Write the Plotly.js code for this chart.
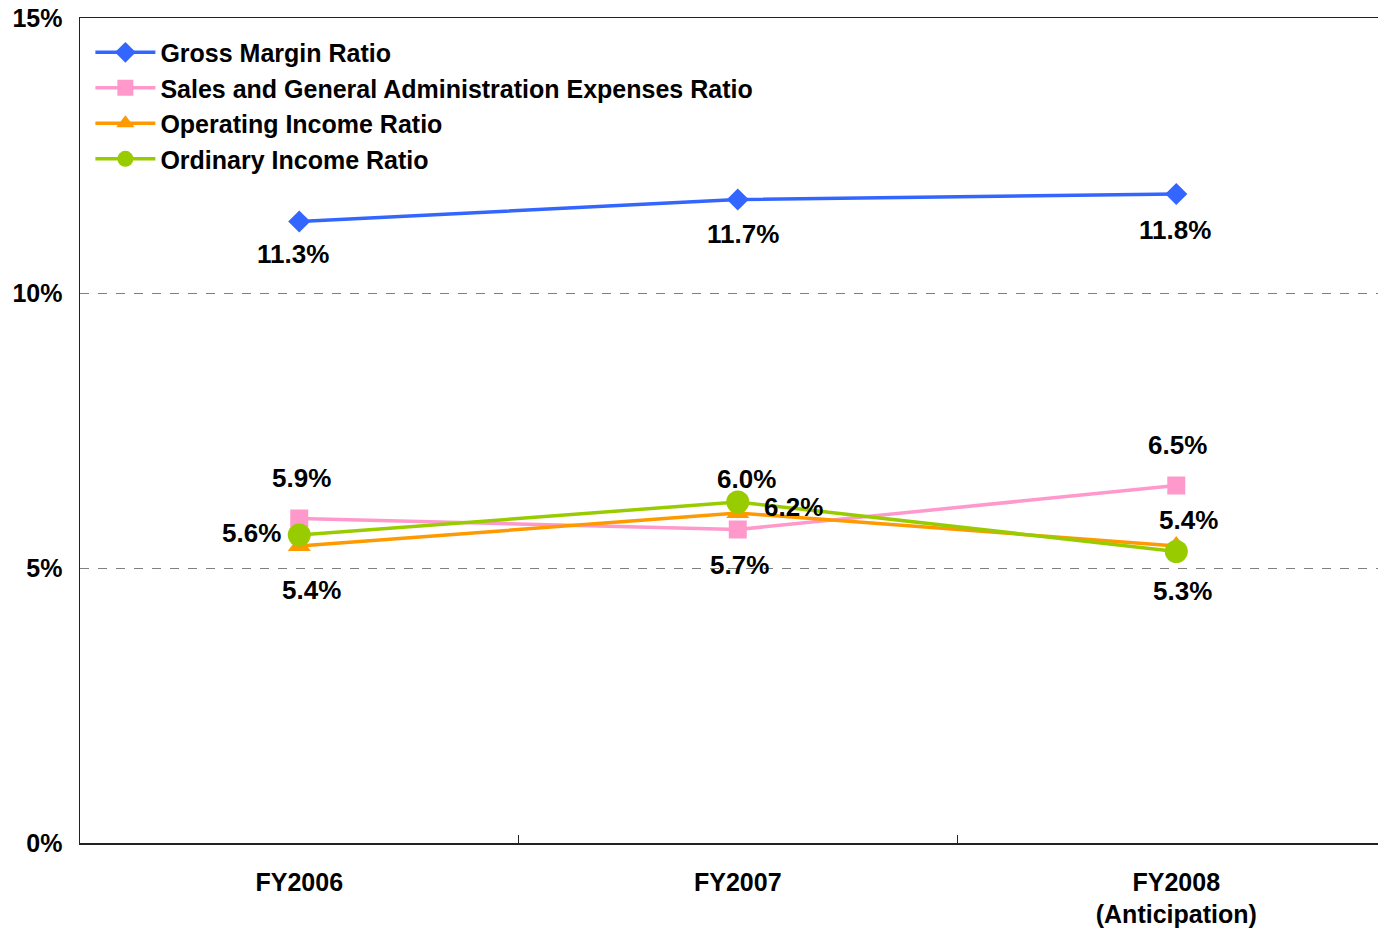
<!DOCTYPE html>
<html>
<head>
<meta charset="utf-8">
<script src="https://cdn.plot.ly/plotly-3.0.1.min.js"></script>
<style>
html,body{margin:0;padding:0;background:#fff;}
#chart{width:1378px;height:931px;}
</style>
</head>
<body>
<div id="chart"></div>
<script>
// ---- data ----
const categories = ["FY2006", "FY2007", "FY2008<br>(Anticipation)"];
const grossMargin = [11.3, 11.7, 11.8];
const sgaRatio = [5.9, 5.7, 6.5];
const operatingIncome = [5.4, 6.0, 5.4];
const ordinaryIncome = [5.6, 6.2, 5.3];
const seriesNames = [
  "Gross Margin Ratio",
  "Sales and General Administration Expenses Ratio",
  "Operating Income Ratio",
  "Ordinary Income Ratio"
];
const yTickValues = [0, 5, 10, 15];
const yTickLabels = ["0%", "5%", "10%", "15%"];

// ---- styles ----
const FONT = "Liberation Sans, Arial, sans-serif";
const styles = [
  {color: "#3366FF", symbol: "diamond", size: 17},
  {color: "#FF99CC", symbol: "square", size: 18},
  {color: "#FF9900", symbol: "triangle-up", size: 20},
  {color: "#99CC00", symbol: "circle", size: 23}
];
// label offsets in px (dx right, dy down) per series per category
const labelOffsets = [
  [[-6, 32], [5, 34], [-1, 36]],
  [[2, -41], [2, 35], [1, -41]],
  [[12, 44], [9, -34], [12, -26]],
  [[-48, -2], [56, 5], [6, 39]]
];

const allSeries = [grossMargin, sgaRatio, operatingIncome, ordinaryIncome];

const traces = allSeries.map((vals, i) => ({
  type: "scatter",
  mode: "lines+markers",
  name: "<b>" + seriesNames[i] + "</b>",
  x: categories,
  y: vals,
  line: {color: styles[i].color, width: 3.5},
  marker: {color: styles[i].color, symbol: styles[i].symbol, size: styles[i].size},
  hoverinfo: "skip"
}));

const annotations = [];
allSeries.forEach((vals, i) => {
  vals.forEach((v, j) => {
    annotations.push({
      x: categories[j], y: v, xref: "x", yref: "y",
      text: "<b>" + v.toFixed(1) + "%</b>",
      showarrow: false,
      xshift: labelOffsets[i][j][0],
      yshift: -labelOffsets[i][j][1],
      font: {family: FONT, size: 26, color: "#000"}
    });
  });
});

const layout = {
  width: 1378, height: 931,
  margin: {l: 80, r: 0, t: 18, b: 88},
  paper_bgcolor: "#fff", plot_bgcolor: "#fff",
  showlegend: true,
  legend: {
    x: 0.008, y: 0.986, xanchor: "left", yanchor: "top",
    bgcolor: "rgba(0,0,0,0)",
    font: {family: FONT, size: 25, color: "#000"},
    itemwidth: 60,
    tracegroupgap: 0
  },
  xaxis: {
    type: "category",
    range: [-0.5, 2.46],
    tickson: "boundaries",
    ticks: "inside", ticklen: 8, tickcolor: "#222", tickwidth: 1,
    showline: true, linecolor: "#222", linewidth: 1.5, mirror: true,
    showgrid: false, zeroline: false,
    tickvals: categories,
    ticktext: categories.map(c => "<b>" + c + "</b>"),
    ticklabelstandoff: 16,
    tickfont: {family: FONT, size: 25, color: "#000"}
  },
  yaxis: {
    range: [0, 15],
    tickvals: yTickValues,
    ticktext: yTickLabels.map(t => "<b>" + t + "</b>"),
    ticks: "",
    ticklabelstandoff: 11,
    showline: true, linecolor: "#222", linewidth: 1.5,
    showgrid: true, gridcolor: "#808080", gridwidth: 1, griddash: "dash",
    zeroline: false,
    tickfont: {family: FONT, size: 25, color: "#000"}
  },
  annotations: annotations
};

Plotly.newPlot("chart", traces, layout, {displayModeBar: false, staticPlot: true});
</script>
</body>
</html>
